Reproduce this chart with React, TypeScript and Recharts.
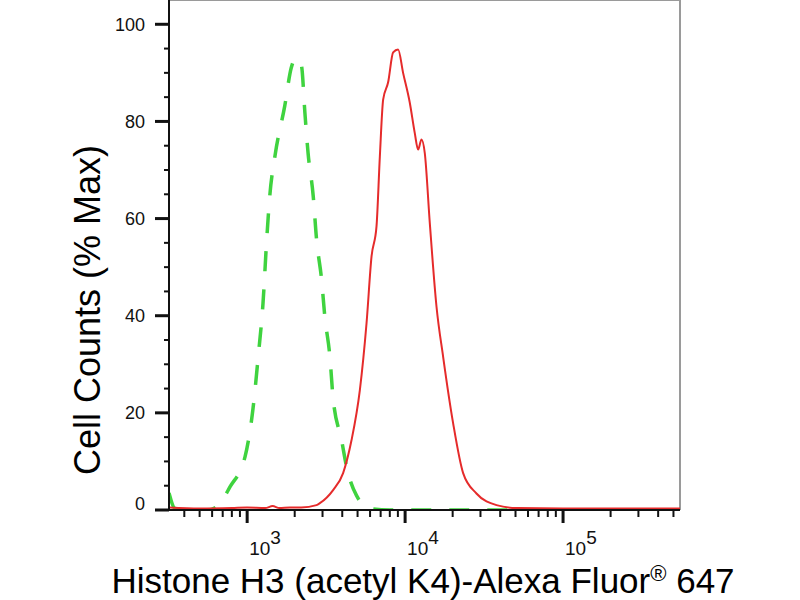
import React from 'react';
import { LineChart, Line, XAxis, YAxis, ReferenceLine } from 'recharts';

const FONT = '"Liberation Sans", Arial, Helvetica, sans-serif';

// control (green dashed) histogram
const controlX = [320, 350, 450, 560, 650, 780, 970, 1090, 1175, 1260, 1330, 1390, 1500, 1730, 1900, 2000, 2100, 2210, 2320, 2430, 2620, 2750, 2960, 3100, 3340, 3500, 3960, 4260, 4920, 6000, 8000, 20000, 100000, 550000];
const controlY = [3.5, 0.3, 0, 0, 0.8, 4.8, 11, 21, 31.6, 42.6, 55.7, 64.6, 72.9, 83.2, 91, 92.8, 93, 91.4, 81.8, 73.5, 64.6, 55.7, 47.4, 39.9, 31.6, 23, 14.4, 8.9, 3, 0.3, 0, 0, 0, 0];

// stained sample (red) histogram
const sampleX = [320, 500, 800, 1000, 1300, 1450, 1600, 1864, 2200, 2749, 2885, 3500, 4050, 4580, 5170, 5700, 6130, 6590, 6920, 7260, 7800, 8400, 9030, 9710, 10700, 11500, 12090, 12700, 13320, 14330, 15800, 17400, 20130, 23300, 28300, 37900, 50700, 100000, 550000];
const sampleY = [0.5, 0.3, 0.4, 0.5, 0.4, 0.8, 0.4, 0.5, 0.5, 1.0, 1.4, 4.1, 7.6, 14.4, 24.7, 38.5, 52.2, 58.4, 72.8, 84.5, 88, 94.2, 94.8, 90, 83.9, 77.7, 74.2, 76.3, 73.5, 59.1, 41.9, 31.6, 17.9, 7.6, 3.4, 1.0, 0.4, 0.3, 0.3];

const yTicks = [0, 5, 10, 15, 20, 25, 30, 35, 40, 45, 50, 55, 60, 65, 70, 75, 80, 85, 90, 95, 100];
const yLabels = [0, 20, 40, 60, 80, 100];
const xTicks = [
  400, 500, 600, 700, 800, 900, 1000,
  2000, 3000, 4000, 5000, 6000, 7000, 8000, 9000, 10000,
  20000, 30000, 40000, 50000, 60000, 70000, 80000, 90000, 100000,
  200000, 300000, 400000, 500000,
];
const xMajor = [1000, 10000, 100000];
const xMajorExp = ['3', '4', '5'];

const xDomain = [320, 550000];
const yDomain = [0, 105];

const controlData = controlX.map((x, i) => ({ x, y: controlY[i] }));
const sampleData = sampleX.map((x, i) => ({ x, y: sampleY[i] }));

function YTick({ x, y, payload }: any) {
  const v = payload.value;
  const major = yLabels.includes(v);
  return (
    <g>
      <line x1={x - (major ? 14 : 5)} x2={x} y1={y} y2={y} stroke="#111" strokeWidth={major ? 3 : 2} />
      {major && (
        <text x={x - 24} y={v === 0 ? y - 6 : y} dy="0.36em" textAnchor="end" fontSize={18} fontFamily={FONT} fill="#111">
          {v}
        </text>
      )}
    </g>
  );
}

function XTick({ x, y, payload }: any) {
  const idx = xMajor.indexOf(payload.value);
  const major = idx >= 0;
  return (
    <g>
      <line x1={x} x2={x} y1={y} y2={y + (major ? 13 : 7)} stroke="#111" strokeWidth={major ? 3 : 2} />
      {major && (
        <text x={x + 2} y={y + 45} fontSize={19} fontFamily={FONT} fill="#111">
          10<tspan dy={-11}>{xMajorExp[idx]}</tspan>
        </text>
      )}
    </g>
  );
}

const yTitle = () => (
  <text x={100} y={310} transform="rotate(-90, 100, 310)" textAnchor="middle" fontSize={36} fontFamily={FONT} fill="#000">
    Cell Counts (% Max)
  </text>
);

const xTitle = () => (
  <text x={423} y={593} textAnchor="middle" fontSize={35} fontFamily={FONT} fill="#000">
    Histone H3 (acetyl K4)-Alexa Fluor
    <tspan fontSize={22} dy={-12}>®</tspan>
    <tspan dy={12}> 647</tspan>
  </text>
);

export default function App() {
  return (
    <div style={{ position: 'absolute', left: 0, top: 0, width: 800, height: 600, background: '#fff' }}>
      <LineChart width={800} height={600} margin={{ top: 0, right: 120, bottom: 0, left: 0 }}>
        <XAxis
          dataKey="x"
          type="number"
          scale="log"
          domain={xDomain}
          allowDataOverflow
          ticks={xTicks}
          interval={0}
          tick={<XTick />}
          tickSize={0}
          tickMargin={0}
          tickLine={false}
          axisLine={{ stroke: '#111', strokeWidth: 2 }}
          height={90}
          label={{ value: 'x', content: xTitle }}
        />
        <YAxis
          dataKey="y"
          type="number"
          domain={yDomain}
          allowDataOverflow
          ticks={yTicks}
          interval={0}
          tick={<YTick />}
          tickSize={0}
          tickMargin={0}
          tickLine={false}
          axisLine={{ stroke: '#111', strokeWidth: 2 }}
          width={169}
          label={{ value: 'y', content: yTitle }}
        />
        <ReferenceLine y={105} stroke="#9a9a9a" strokeWidth={2} />
        <ReferenceLine x={550000} stroke="#9a9a9a" strokeWidth={2} />
        <Line
          data={controlData}
          dataKey="y"
          type="monotone"
          stroke="#3fd33f"
          strokeWidth={3.5}
          strokeDasharray="20 18"
          dot={false}
          activeDot={false}
          isAnimationActive={false}
        />
        <Line
          data={sampleData}
          dataKey="y"
          type="monotone"
          stroke="#e52b2b"
          strokeWidth={2}
          dot={false}
          activeDot={false}
          isAnimationActive={false}
        />
      </LineChart>
    </div>
  );
}
